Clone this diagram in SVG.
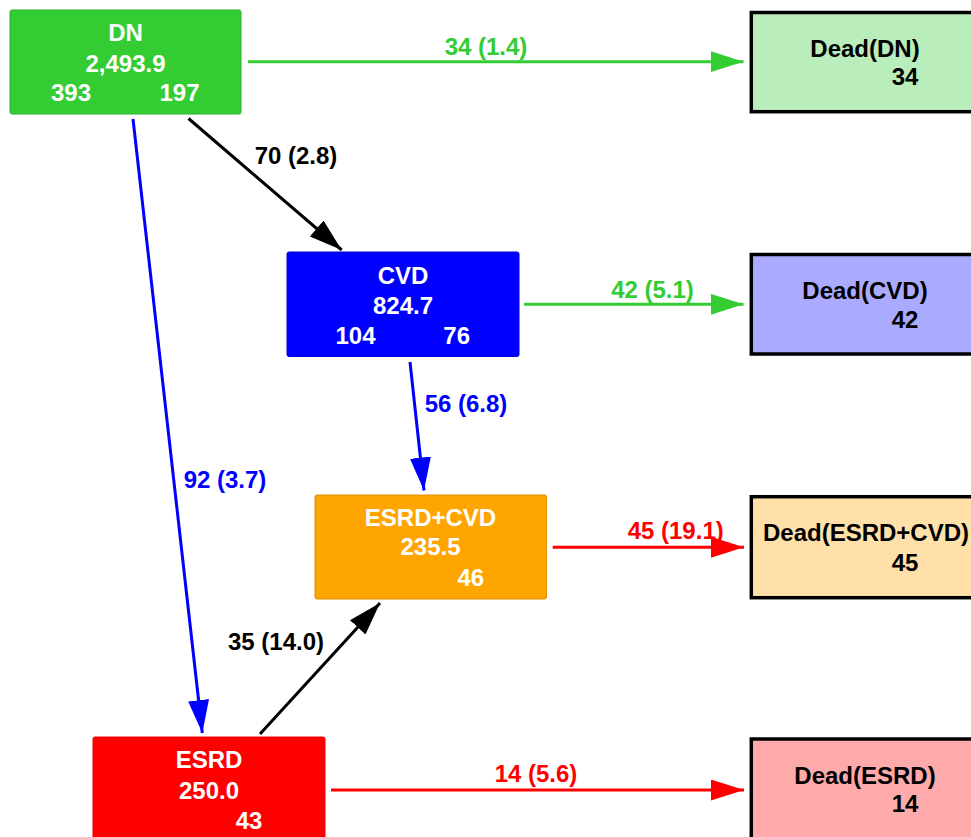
<svg xmlns="http://www.w3.org/2000/svg" width="971" height="837" viewBox="0 0 971 837">
<style>
  text { font-family: "Liberation Sans", Arial, sans-serif; font-weight: bold; font-size: 24px; text-anchor: middle; }
  .w { fill: #ffffff; }
  .k { fill: #000000; }
  .dead { stroke: #000000; stroke-width: 3.5; }
  .conn { fill: none; stroke-width: 3; }
</style>
<defs>
  <marker id="ag" markerUnits="userSpaceOnUse" markerWidth="35" markerHeight="23" refX="33" refY="10.5" orient="auto"><path d="M0,0 L33,10.5 L0,21 z" fill="#33cc33"/></marker>
  <marker id="ab" markerUnits="userSpaceOnUse" markerWidth="35" markerHeight="23" refX="33" refY="10.5" orient="auto"><path d="M0,0 L33,10.5 L0,21 z" fill="#0000ff"/></marker>
  <marker id="ak" markerUnits="userSpaceOnUse" markerWidth="35" markerHeight="23" refX="33" refY="10.5" orient="auto"><path d="M0,0 L33,10.5 L0,21 z" fill="#000000"/></marker>
  <marker id="ar" markerUnits="userSpaceOnUse" markerWidth="35" markerHeight="23" refX="33" refY="10.5" orient="auto"><path d="M0,0 L33,10.5 L0,21 z" fill="#ff0000"/></marker>
</defs>
<rect width="971" height="837" fill="#ffffff"/>

<g id="connectors">
  <line class="conn" x1="248" y1="61.7" x2="743.5" y2="61.7" stroke="#33cc33" marker-end="url(#ag)"/>
  <text x="486" y="55" fill="#33cc33">34 (1.4)</text>
  <line class="conn" x1="188.5" y1="118.5" x2="341.7" y2="250" stroke="#000000" marker-end="url(#ak)"/>
  <text x="296" y="164" class="k">70 (2.8)</text>
  <line class="conn" x1="133" y1="119" x2="202.3" y2="733" stroke="#0000ff" marker-end="url(#ab)"/>
  <text x="225" y="488" fill="#0000ff">92 (3.7)</text>
  <line class="conn" x1="524" y1="304.3" x2="743.5" y2="304.3" stroke="#33cc33" marker-end="url(#ag)"/>
  <text x="652.5" y="298" fill="#33cc33">42 (5.1)</text>
  <line class="conn" x1="410" y1="362" x2="424" y2="490.5" stroke="#0000ff" marker-end="url(#ab)"/>
  <text x="466" y="412" fill="#0000ff">56 (6.8)</text>
  <line class="conn" x1="552.7" y1="547.3" x2="744" y2="547.3" stroke="#ff0000" marker-end="url(#ar)"/>
  <text x="675.7" y="539" fill="#ff0000">45 (19.1)</text>
  <line class="conn" x1="260" y1="734" x2="380" y2="603" stroke="#000000" marker-end="url(#ak)"/>
  <text x="276" y="650" class="k">35 (14.0)</text>
  <line class="conn" x1="331" y1="790" x2="744" y2="790" stroke="#ff0000" marker-end="url(#ar)"/>
  <text x="536" y="782" fill="#ff0000">14 (5.6)</text>
</g>

<g id="DN">
  <rect x="10" y="10" width="231" height="104" rx="2" fill="#33cc33" stroke="#2bb02b" stroke-width="1"/>
  <text x="125.5" y="41" class="w">DN</text>
  <text x="125.5" y="72" class="w">2,493.9</text>
  <text x="71" y="101" class="w">393</text>
  <text x="179.5" y="101" class="w">197</text>
</g>

<g id="CVD">
  <rect x="287" y="252" width="232" height="104.5" rx="2" fill="#0000ff" stroke="#0000dd" stroke-width="1"/>
  <text x="403" y="284" class="w">CVD</text>
  <text x="403" y="314" class="w">824.7</text>
  <text x="355.5" y="344" class="w">104</text>
  <text x="456.7" y="344" class="w">76</text>
</g>

<g id="ESRD_CVD">
  <rect x="315" y="495" width="231.5" height="104" rx="2" fill="#ffa500" stroke="#dd8f00" stroke-width="1"/>
  <text x="430.5" y="525.7" class="w">ESRD+CVD</text>
  <text x="430.5" y="555" class="w">235.5</text>
  <text x="470.8" y="586" class="w">46</text>
</g>

<g id="ESRD">
  <rect x="93" y="737" width="232" height="110" rx="2" fill="#ff0000" stroke="#ee0000" stroke-width="1"/>
  <text x="209" y="768" class="w">ESRD</text>
  <text x="209" y="799" class="w">250.0</text>
  <text x="249" y="829" class="w">43</text>
</g>

<g id="Dead_DN">
  <rect class="dead" x="751.3" y="12.5" width="240" height="99.2" fill="#b9edbb"/>
  <text x="865" y="56.7" class="k">Dead(DN)</text>
  <text x="905" y="85" class="k">34</text>
</g>

<g id="Dead_CVD">
  <rect class="dead" x="751.3" y="254.5" width="240" height="99.5" fill="#aaaaff"/>
  <text x="865" y="299" class="k">Dead(CVD)</text>
  <text x="905" y="328" class="k">42</text>
</g>

<g id="Dead_ESRD_CVD">
  <rect class="dead" x="751.3" y="496.7" width="240" height="101" fill="#ffe0a8"/>
  <text x="866" y="540.7" class="k">Dead(ESRD+CVD)</text>
  <text x="905" y="570.7" class="k">45</text>
</g>

<g id="Dead_ESRD">
  <rect class="dead" x="751.3" y="739" width="240" height="110" fill="#ffaaaa"/>
  <text x="865" y="784" class="k">Dead(ESRD)</text>
  <text x="905" y="812" class="k">14</text>
</g>
</svg>
